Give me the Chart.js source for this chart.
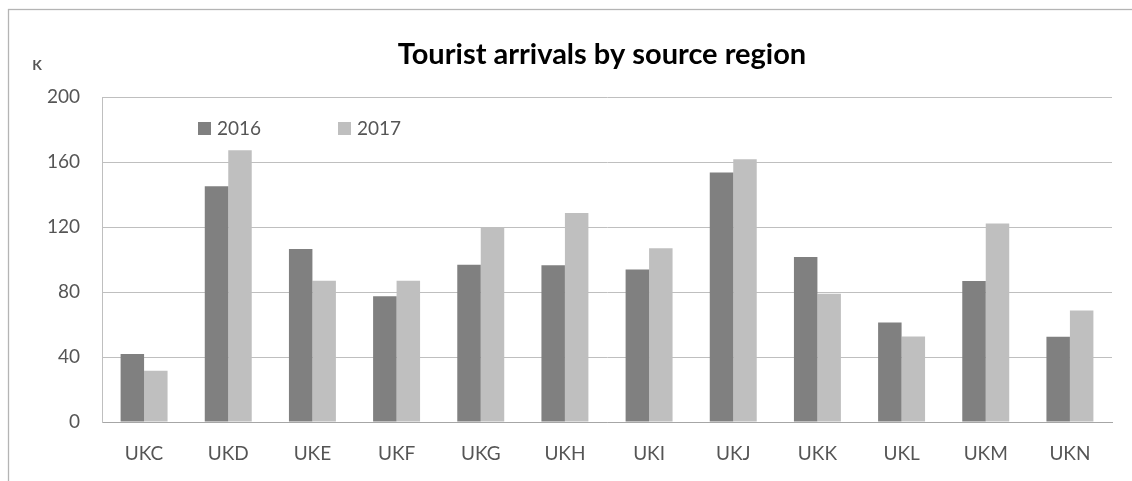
<!DOCTYPE html>
<html>
<head>
<meta charset="utf-8">
<script src="https://cdn.jsdelivr.net/npm/chart.js@4.4.1/dist/chart.umd.min.js"></script>
<style>
  html, body { margin: 0; padding: 0; background: #fff; overflow: hidden; }
  #wrap { width: 1132px; height: 481px; }
</style>
</head>
<body>
<div id="wrap"><canvas id="touristChart" width="1132" height="481"></canvas></div>
<script>
// data (thousands)
const regions = ['UKC', 'UKD', 'UKE', 'UKF', 'UKG', 'UKH', 'UKI', 'UKJ', 'UKK', 'UKL', 'UKM', 'UKN'];
const arrivals2016 = [41.8, 145.1, 106.4, 77.4, 96.8, 96.4, 93.8, 153.5, 101.5, 61.2, 86.8, 52.4];
const arrivals2017 = [31.5, 167.2, 87.0, 87.0, 120.0, 128.6, 106.9, 161.7, 79.0, 52.6, 122.2, 68.6];
const yTicks = [0, 40, 80, 120, 160, 200];

const FONT = 'Lato, "Open Sans", sans-serif';
const TEXT = '#555555';

// outer frame, title, unit label and in-plot legend
const decorPlugin = {
    id: 'decor',
    beforeDraw(chart) {
        const ctx = chart.ctx;
        ctx.save();
        ctx.fillStyle = '#fff';
        ctx.fillRect(0, 0, chart.width, chart.height);
        ctx.strokeStyle = '#b4b4b4';
        ctx.lineWidth = 1.3;
        ctx.strokeRect(8.5, 9.5, chart.width + 50, chart.height + 50);
        ctx.restore();
    },
    afterDraw(chart) {
        const ctx = chart.ctx;
        ctx.save();
        ctx.textBaseline = 'middle';

        ctx.fillStyle = '#000';
        ctx.font = 'bold 29px ' + FONT;
        ctx.textAlign = 'center';
        ctx.fillText('Tourist arrivals by source region', 602, 55);

        ctx.fillStyle = TEXT;
        ctx.font = 'bold 14px ' + FONT;
        ctx.fillText('K', 37, 65);

        // legend
        const legendX = [198, 338];
        ctx.font = '19px ' + FONT;
        ctx.textAlign = 'left';
        chart.data.datasets.forEach((ds, i) => {
            ctx.fillStyle = ds.backgroundColor;
            ctx.fillRect(legendX[i], 122, 13, 13);
            ctx.fillStyle = TEXT;
            ctx.fillText(ds.label, legendX[i] + 19, 129);
        });
        ctx.restore();
    }
};

const ctx = document.getElementById('touristChart').getContext('2d');
new Chart(ctx, {
    type: 'bar',
    data: {
        labels: regions,
        datasets: [
            { label: '2016', data: arrivals2016, backgroundColor: '#808080' },
            { label: '2017', data: arrivals2017, backgroundColor: '#bfbfbf' }
        ]
    },
    options: {
        responsive: false,
        animation: false,
        devicePixelRatio: 1,
        layout: { padding: { top: 97, left: 0, right: 20, bottom: 0 } },
        datasets: { bar: { categoryPercentage: 0.558, barPercentage: 1.0 } },
        plugins: {
            legend: { display: false },
            title: { display: false },
            tooltip: { enabled: false }
        },
        scales: {
            x: {
                grid: { display: false, drawTicks: false },
                border: { display: true, color: '#a6a6a6', width: 1 },
                ticks: { color: TEXT, font: { family: FONT, size: 19 }, padding: 20 },
                afterFit(scale) { scale.height = 59; }
            },
            y: {
                min: 0,
                max: 200,
                afterBuildTicks(scale) { scale.ticks = yTicks.map(v => ({ value: v })); },
                grid: { color: '#bfbfbf', lineWidth: 1, drawTicks: false },
                border: { display: true, color: '#bfbfbf', width: 1 },
                ticks: { color: TEXT, font: { family: FONT, size: 19 }, padding: 22 },
                afterFit(scale) { scale.width = 102; }
            }
        }
    },
    plugins: [decorPlugin]
});
</script>
</body>
</html>
